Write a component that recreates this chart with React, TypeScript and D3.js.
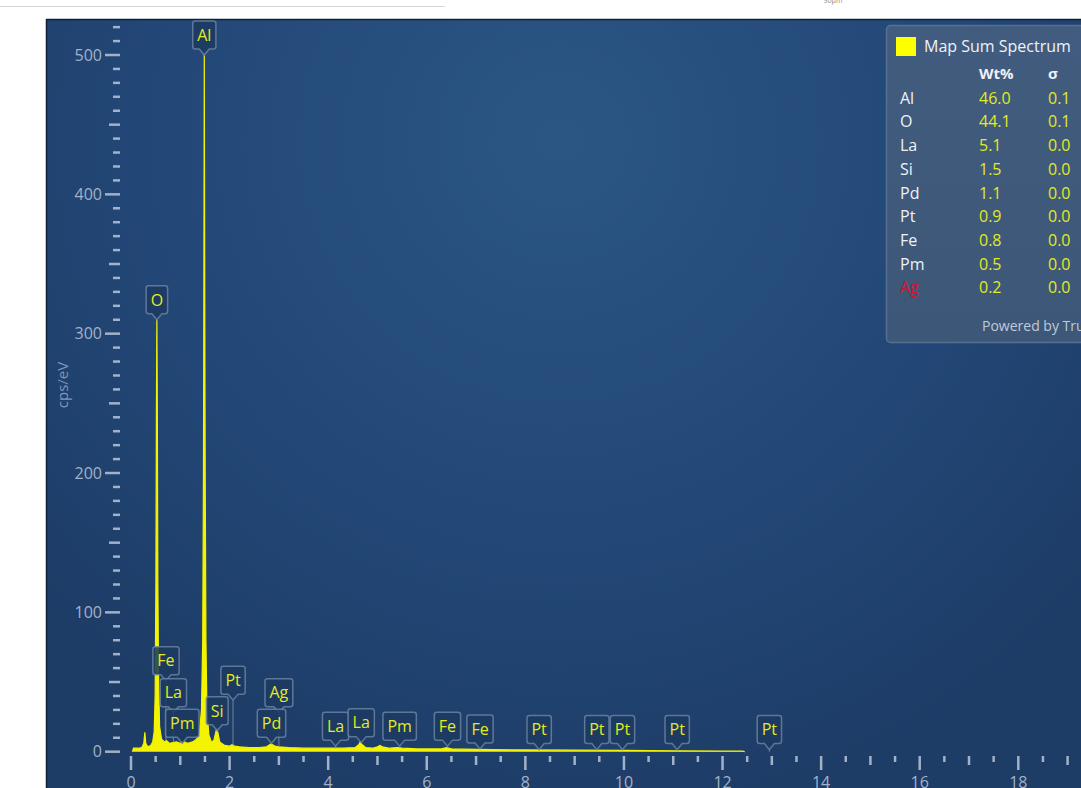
import React from "react";
import * as d3 from "d3";

// ---------- DATA ----------
// Spectrum points: [energy keV, cps/eV]
const spectrum: [number, number][] = [
  [0.03, 0], [0.05, 2.5], [0.15, 2.5], [0.22, 3], [0.26, 6], [0.28, 14], [0.3, 6], [0.34, 3.5],
  [0.4, 4.5], [0.44, 7], [0.47, 14], [0.49, 40], [0.505, 120], [0.515, 240], [0.525, 310],
  [0.535, 240], [0.545, 120], [0.56, 50], [0.58, 18], [0.62, 9], [0.68, 7], [0.72, 8],
  [0.78, 6], [0.85, 6.5], [0.92, 7], [1.0, 6], [1.08, 7], [1.15, 6], [1.25, 7], [1.33, 9],
  [1.39, 14], [1.43, 30], [1.455, 80], [1.47, 200], [1.478, 330], [1.483, 425], [1.487, 500],
  [1.491, 425], [1.496, 330], [1.505, 200], [1.52, 80], [1.54, 30], [1.58, 12], [1.63, 7],
  [1.68, 8], [1.72, 14], [1.74, 17], [1.76, 14], [1.8, 7], [1.9, 4.5], [2.0, 4], [2.05, 5],
  [2.1, 4], [2.2, 3.5], [2.4, 3], [2.6, 3], [2.75, 3.5], [2.84, 5.5], [2.92, 4], [3.0, 3.5],
  [3.2, 3], [3.5, 2.5], [4.0, 2.5], [4.3, 2.5], [4.55, 3], [4.62, 5], [4.65, 7], [4.69, 5],
  [4.76, 3], [4.9, 2.5], [5.0, 3.5], [5.05, 4.5], [5.1, 3.5], [5.25, 2.5], [5.4, 3], [5.5, 2.5],
  [5.8, 2], [6.3, 2], [6.4, 3], [6.5, 2], [7.0, 1.6], [8.0, 1.3], [9.0, 1.1], [10, 0.9],
  [11, 0.7], [12, 0.5], [12.4, 0.4], [12.45, 0],
];

// Peak labels: element, energy (keV), pointer tip level (cps/eV)
const peakElements = ["Al", "O", "Fe", "La", "Pm", "Si", "Pt", "Ag", "Pd", "La", "La", "Pm", "Fe", "Fe", "Pt", "Pt", "Pt", "Pt", "Pt"];
const peakEnergies = [1.487, 0.525, 0.71, 0.86, 1.04, 1.75, 2.07, 3.0, 2.85, 4.15, 4.67, 5.45, 6.42, 7.08, 8.28, 9.45, 9.97, 11.08, 12.95];
const peakTipLevels = [500, 310, 51, 28, 6, 15, 37, 28, 6, 4, 6.5, 4, 4, 2, 1.5, 1.5, 1.5, 1.5, 1.5];

// Quantification table
const quantElements = ["Al", "O", "La", "Si", "Pd", "Pt", "Fe", "Pm", "Ag"];
const quantWt = ["46.0", "44.1", "5.1", "1.5", "1.1", "0.9", "0.8", "0.5", "0.2"];
const quantSigma = ["0.1", "0.1", "0.0", "0.0", "0.0", "0.0", "0.0", "0.0", "0.0"];

const xMajorTicks = [0, 2, 4, 6, 8, 10, 12, 14, 16, 18];
const yMajorTicks = [0, 100, 200, 300, 400, 500];

// ---------- LAYOUT ----------
const W = 1081;
const H = 788;
const FONT = "'Open Sans', 'Noto Sans', sans-serif";

const x = d3.scaleLinear().domain([0, 18]).range([131, 1018.3]);
const y = d3.scaleLinear().domain([0, 500]).range([751.7, 55]);

function measure(text: string, size: number): number {
  const c = document.createElement("canvas");
  const ctx = c.getContext("2d");
  if (!ctx) return text.length * size * 0.6;
  ctx.font = `${size}px 'Open Sans'`;
  return ctx.measureText(text).width;
}

function interp(e: number): number {
  for (let i = 0; i < spectrum.length - 1; i++) {
    const [e0, c0] = spectrum[i];
    const [e1, c1] = spectrum[i + 1];
    if (e >= e0 && e <= e1) return c0 + ((c1 - c0) * (e - e0)) / (e1 - e0);
  }
  return 0;
}

export default function App() {
  const area = d3
    .area<[number, number]>()
    .x((d) => x(d[0]))
    .y0(y(0))
    .y1((d) => y(d[1]))(spectrum) as string;
  const line = d3
    .line<[number, number]>()
    .x((d) => x(d[0]))
    .y((d) => y(d[1]))(spectrum) as string;

  const xMinor = d3.range(0, 39).map((i) => i * 0.5);
  const yMinor = d3.range(0, 53).map((i) => i * 10);

  const labelFont = 16;
  const boxH = 28;
  const ptr = 6;

  return (
    <svg
      width={W}
      height={H}
      style={{ position: "absolute", left: 0, top: 0, display: "block" }}
      fontFamily={FONT}
    >
      <defs>
        <radialGradient id="bg" cx="560" cy="140" r="700" gradientUnits="userSpaceOnUse">
          <stop offset="0" stopColor="#2b5683" />
          <stop offset="0.55" stopColor="#234878" />
          <stop offset="1" stopColor="#1d3c66" />
        </radialGradient>
        <linearGradient id="leg" x1="0" y1="0" x2="0" y2="1">
          <stop offset="0" stopColor="#425c7f" />
          <stop offset="1" stopColor="#3d5778" />
        </linearGradient>
      </defs>

      {/* page */}
      <rect x={0} y={0} width={W} height={H} fill="#ffffff" />
      <line x1={0} x2={445} y1={6.5} y2={6.5} stroke="#d6d6d6" strokeWidth={1} />
      <text x={833} y={3} fontSize={7} fill="#888" textAnchor="middle">30µm</text>

      {/* panel */}
      <rect x={46} y={19} width={W - 46} height={H - 19} fill="url(#bg)" />
      <line x1={46} x2={W} y1={19.5} y2={19.5} stroke="#0f2237" strokeWidth={1.5} />
      <line x1={46.5} x2={46.5} y1={19} y2={H} stroke="#0f2237" strokeWidth={1.5} />

      {/* y axis ticks */}
      {yMinor.map((v) => {
        const major = v % 100 === 0;
        const mid = !major && v % 50 === 0;
        const x1 = major ? 105 : mid ? 109 : 113;
        return (
          <line key={"ym" + v} x1={x1} x2={120} y1={y(v)} y2={y(v)} stroke="#b9c6d8" strokeWidth={2.5} strokeOpacity={0.85} />
        );
      })}
      {yMajorTicks.map((v) => (
        <text key={"yl" + v} x={102} y={y(v)} dy="0.35em" fontSize={16} fill="#a3b2c7" textAnchor="end">
          {v}
        </text>
      ))}
      <text transform={`translate(68, 385) rotate(-90)`} fontSize={15} fill="#7f98b9" textAnchor="middle">
        cps/eV
      </text>

      {/* x axis ticks */}
      {xMinor.map((v) => {
        const major = v % 2 === 0;
        const mid = !major && v % 1 === 0;
        const len = major ? 14 : mid ? 9 : 6;
        return (
          <line key={"xm" + v} x1={x(v)} x2={x(v)} y1={756} y2={756 + len} stroke="#b9c6d8" strokeWidth={2.5} strokeOpacity={0.85} />
        );
      })}
      {xMajorTicks.map((v) => (
        <text key={"xl" + v} x={x(v)} y={788} fontSize={16} fill="#a3b2c7" textAnchor="middle">
          {v}
        </text>
      ))}

      {/* spectrum */}
      <path d={area} fill="#f4f400" />
      <path d={line} fill="none" stroke="#f4f400" strokeWidth={1.2} />

      {/* peak labels */}
      {peakElements.map((el, i) => {
        const e = peakEnergies[i];
        const cx = x(e);
        const tipY = y(peakTipLevels[i]);
        const bottom = tipY - ptr;
        const top = bottom - boxH;
        const w = measure(el, labelFont) + 9;
        const l = cx - w / 2;
        const r = cx + w / 2;
        const rr = 2.5;
        const specY = y(interp(e));
        const d = `M${l + rr},${top} H${r - rr} Q${r},${top} ${r},${top + rr} V${bottom - rr} Q${r},${bottom} ${r - rr},${bottom} H${cx + 5} L${cx},${tipY} L${cx - 5},${bottom} H${l + rr} Q${l},${bottom} ${l},${bottom - rr} V${top + rr} Q${l},${top} ${l + rr},${top} Z`;
        return (
          <g key={"pk" + i}>
            {specY > tipY + 1 && (
              <line x1={cx} x2={cx} y1={tipY} y2={specY} stroke="#8796ab" strokeWidth={1} strokeOpacity={0.8} />
            )}
            <path d={d} fill="#1c3a61" fillOpacity={0.88} stroke="#6f86a4" strokeOpacity={0.8} strokeWidth={1.5} />
            <text x={cx} y={(top + bottom) / 2} dy="0.36em" fontSize={labelFont} fill="#e3ec1c" textAnchor="middle">
              {el}
            </text>
          </g>
        );
      })}

      {/* legend */}
      <rect x={886.5} y={25.5} width={220} height={317} rx={4} fill="url(#leg)" stroke="#56708f" strokeWidth={1.5} />
      <rect x={896} y={37} width={20} height={19} fill="#ffff00" />
      <text x={924} y={46} dy="0.36em" fontSize={16} fill="#eef2f7">Map Sum Spectrum</text>
      <text x={979} y={74} dy="0.36em" fontSize={15} fontWeight="bold" fill="#eef2f7">Wt%</text>
      <text x={1048} y={74} dy="0.36em" fontSize={15} fontWeight="bold" fill="#eef2f7">σ</text>
      {quantElements.map((el, i) => {
        const ry = 98 + i * 23.7;
        return (
          <g key={"q" + el}>
            <text x={900} y={ry} dy="0.36em" fontSize={16} fill={el === "Ag" ? "#d2142e" : "#eef2f7"}>{el}</text>
            <text x={979} y={ry} dy="0.36em" fontSize={16} fill="#e2ea22">{quantWt[i]}</text>
            <text x={1048} y={ry} dy="0.36em" fontSize={16} fill="#e2ea22">{quantSigma[i]}</text>
          </g>
        );
      })}
      <text x={982} y={326} dy="0.36em" fontSize={14} fill="#c0cad8">Powered by Tru-Q</text>
    </svg>
  );
}
